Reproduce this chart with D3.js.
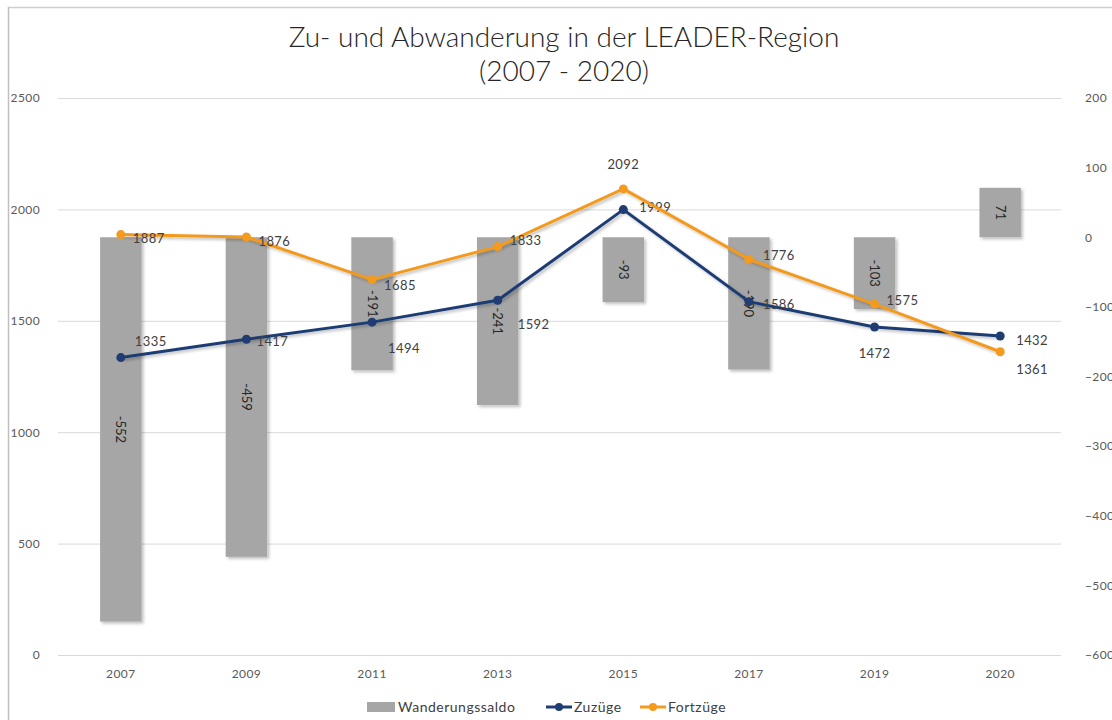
<!DOCTYPE html>
<html>
<head>
<meta charset="utf-8">
<script src="https://cdn.jsdelivr.net/npm/d3@7"></script>
<style>
  body { margin: 0; background: #fff; }
  svg { font-family: Lato, "DejaVu Sans", sans-serif; }
</style>
</head>
<body>
<svg id="chart" width="1112" height="720"></svg>
<script>
const years = ['2007', '2009', '2011', '2013', '2015', '2017', '2019', '2020'];
const saldo = [-552, -459, -191, -241, -93, -190, -103, 71];
const zuzuege = [1335, 1417, 1494, 1592, 1999, 1586, 1472, 1432];
const fortzuege = [1887, 1876, 1685, 1833, 2092, 1776, 1575, 1361];
const leftTicks = [0, 500, 1000, 1500, 2000, 2500];
const rightTicks = [-600, -500, -400, -300, -200, -100, 0, 100, 200];

// label offsets (dx, dy) for each point label
const zuzLabelPos = [[14, -16], [10, 2], [16, 26], [20, 24], [16, -2], [14, 3], [0, 26], [16, 4]];
const fortLabelPos = [[12, 4], [12, 4], [12, 6], [12, -6], [0, -24], [14, -4], [12, -4], [16, 18]];

const tickFont = g => g.selectAll('text')
    .attr('fill', '#595959')
    .style('font-size', '12px')
    .style('letter-spacing', '0.4px')
    .style('font-family', 'Lato, "DejaVu Sans", sans-serif');

function drawChart() {
    const svg = d3.select('#chart');
    const margin = {top: 98, right: 49, bottom: 65, left: 58};
    const width = +svg.attr('width') - margin.left - margin.right;
    const height = +svg.attr('height') - margin.top - margin.bottom;

    // frame (only top and left visible)
    svg.append('line').attr('x1', 8).attr('x2', 1112).attr('y1', 7.5).attr('y2', 7.5)
        .attr('stroke', '#cfcfcf').attr('stroke-width', 1.5);
    svg.append('line').attr('x1', 8.5).attr('x2', 8.5).attr('y1', 7).attr('y2', 720)
        .attr('stroke', '#bfbfbf').attr('stroke-width', 1.5);

    const defs = svg.append('defs');
    const f = defs.append('filter').attr('id', 'shadow')
        .attr('x', '-20%').attr('y', '-20%').attr('width', '150%').attr('height', '150%');
    f.append('feDropShadow').attr('dx', 2).attr('dy', 2).attr('stdDeviation', 1.5)
        .attr('flood-color', '#000').attr('flood-opacity', 0.25);

    const g = svg.append('g').attr('transform', `translate(${margin.left},${margin.top})`);

    const x = d3.scaleBand().domain(years).range([0, width]).paddingInner(0.67).paddingOuter(0.335);
    const yL = d3.scaleLinear().domain([0, 2500]).range([height, 0]);
    const yR = d3.scaleLinear().domain([-600, 200]).range([height, 0]);

    // gridlines
    g.append('g')
        .call(d3.axisLeft(yL).tickValues(leftTicks).tickSize(-width + 2).tickFormat(''))
        .call(a => a.select('.domain').remove())
        .call(a => a.selectAll('line').attr('stroke', '#d9d9d9').attr('stroke-width', 1));

    // left axis labels
    g.append('g')
        .call(d3.axisLeft(yL).tickValues(leftTicks).tickSize(0).tickPadding(18).tickFormat(d3.format('d')))
        .call(a => a.select('.domain').remove())
        .call(tickFont);

    // right axis labels
    g.append('g')
        .attr('transform', `translate(${width},0)`)
        .call(d3.axisRight(yR).tickValues(rightTicks).tickSize(0).tickPadding(22).tickFormat(d3.format('d')))
        .call(a => a.select('.domain').remove())
        .call(tickFont);

    // x axis labels
    g.append('g')
        .attr('transform', `translate(0,${height})`)
        .call(d3.axisBottom(x).tickSize(0).tickPadding(14))
        .call(a => a.select('.domain').remove())
        .call(tickFont);

    // bars (saldo, right axis)
    const barData = years.map((yr, i) => ({year: yr, v: saldo[i]}));
    g.selectAll('rect.bar')
        .data(barData)
        .enter().append('rect')
        .attr('class', 'bar')
        .attr('x', d => x(d.year))
        .attr('width', x.bandwidth())
        .attr('y', d => yR(Math.max(0, d.v)))
        .attr('height', d => Math.abs(yR(d.v) - yR(0)))
        .attr('fill', '#a6a6a6')
        .attr('filter', 'url(#shadow)');

    g.selectAll('text.barlabel')
        .data(barData)
        .enter().append('text')
        .attr('class', 'barlabel')
        .attr('transform', d => `translate(${x(d.year) + x.bandwidth() / 2},${(yR(d.v) + yR(0)) / 2}) rotate(90)`)
        .attr('text-anchor', 'middle')
        .attr('dy', '0.35em')
        .attr('fill', '#262626')
        .style('font-size', '13px')
        .text(d => d.v);

    const cx = d => x(d.year) + x.bandwidth() / 2;

    function drawSeries(values, color, labelPos) {
        const data = years.map((yr, i) => ({year: yr, v: values[i], i: i}));
        const line = d3.line().x(cx).y(d => yL(d.v));
        g.append('path')
            .datum(data)
            .attr('fill', 'none')
            .attr('stroke', color)
            .attr('stroke-width', 3)
            .attr('stroke-linejoin', 'round')
            .attr('filter', 'url(#shadow)')
            .attr('d', line);
        g.selectAll(null)
            .data(data)
            .enter().append('circle')
            .attr('cx', cx)
            .attr('cy', d => yL(d.v))
            .attr('r', 4.5)
            .attr('fill', color);
        g.selectAll(null)
            .data(data)
            .enter().append('text')
            .attr('x', d => cx(d) + labelPos[d.i][0])
            .attr('y', d => yL(d.v) + labelPos[d.i][1])
            .attr('text-anchor', d => labelPos[d.i][0] === 0 ? 'middle' : 'start')
            .attr('dy', '0.35em')
            .attr('fill', '#404040')
            .style('font-size', '13px')
            .style('letter-spacing', '0.4px')
            .text(d => d.v);
    }

    drawSeries(zuzuege, '#1f3c73', zuzLabelPos);
    drawSeries(fortzuege, '#f39a1f', fortLabelPos);

    // title
    const title = svg.append('text')
        .attr('x', 564)
        .attr('text-anchor', 'middle')
        .attr('fill', '#262626')
        .style('font-size', '28px')
        .style('font-weight', 300);
    title.append('tspan').attr('x', 564).attr('y', 47).text('Zu- und Abwanderung in der LEADER-Region');
    title.append('tspan').attr('x', 564).attr('y', 81).text('(2007 - 2020)');

    // legend
    const lg = svg.append('g').attr('transform', 'translate(0,707)');
    lg.append('rect').attr('x', 367).attr('y', -5).attr('width', 28).attr('height', 10).attr('fill', '#a6a6a6');
    lg.append('text').attr('x', 398).attr('dy', '0.35em').attr('fill', '#404040')
        .style('font-size', '14px').style('letter-spacing', '0.5px').text('Wanderungssaldo');
    const legendLines = [
        {x: 546, color: '#1f3c73', label: 'Zuzüge'},
        {x: 640, color: '#f39a1f', label: 'Fortzüge'}
    ];
    legendLines.forEach(l => {
        lg.append('line').attr('x1', l.x).attr('x2', l.x + 26).attr('y1', 0).attr('y2', 0)
            .attr('stroke', l.color).attr('stroke-width', 3);
        lg.append('circle').attr('cx', l.x + 13).attr('cy', 0).attr('r', 4).attr('fill', l.color);
        lg.append('text').attr('x', l.x + 28).attr('dy', '0.35em').attr('fill', '#404040')
            .style('font-size', '14px').style('letter-spacing', '0.5px').text(l.label);
    });
}

drawChart();
</script>
</body>
</html>
